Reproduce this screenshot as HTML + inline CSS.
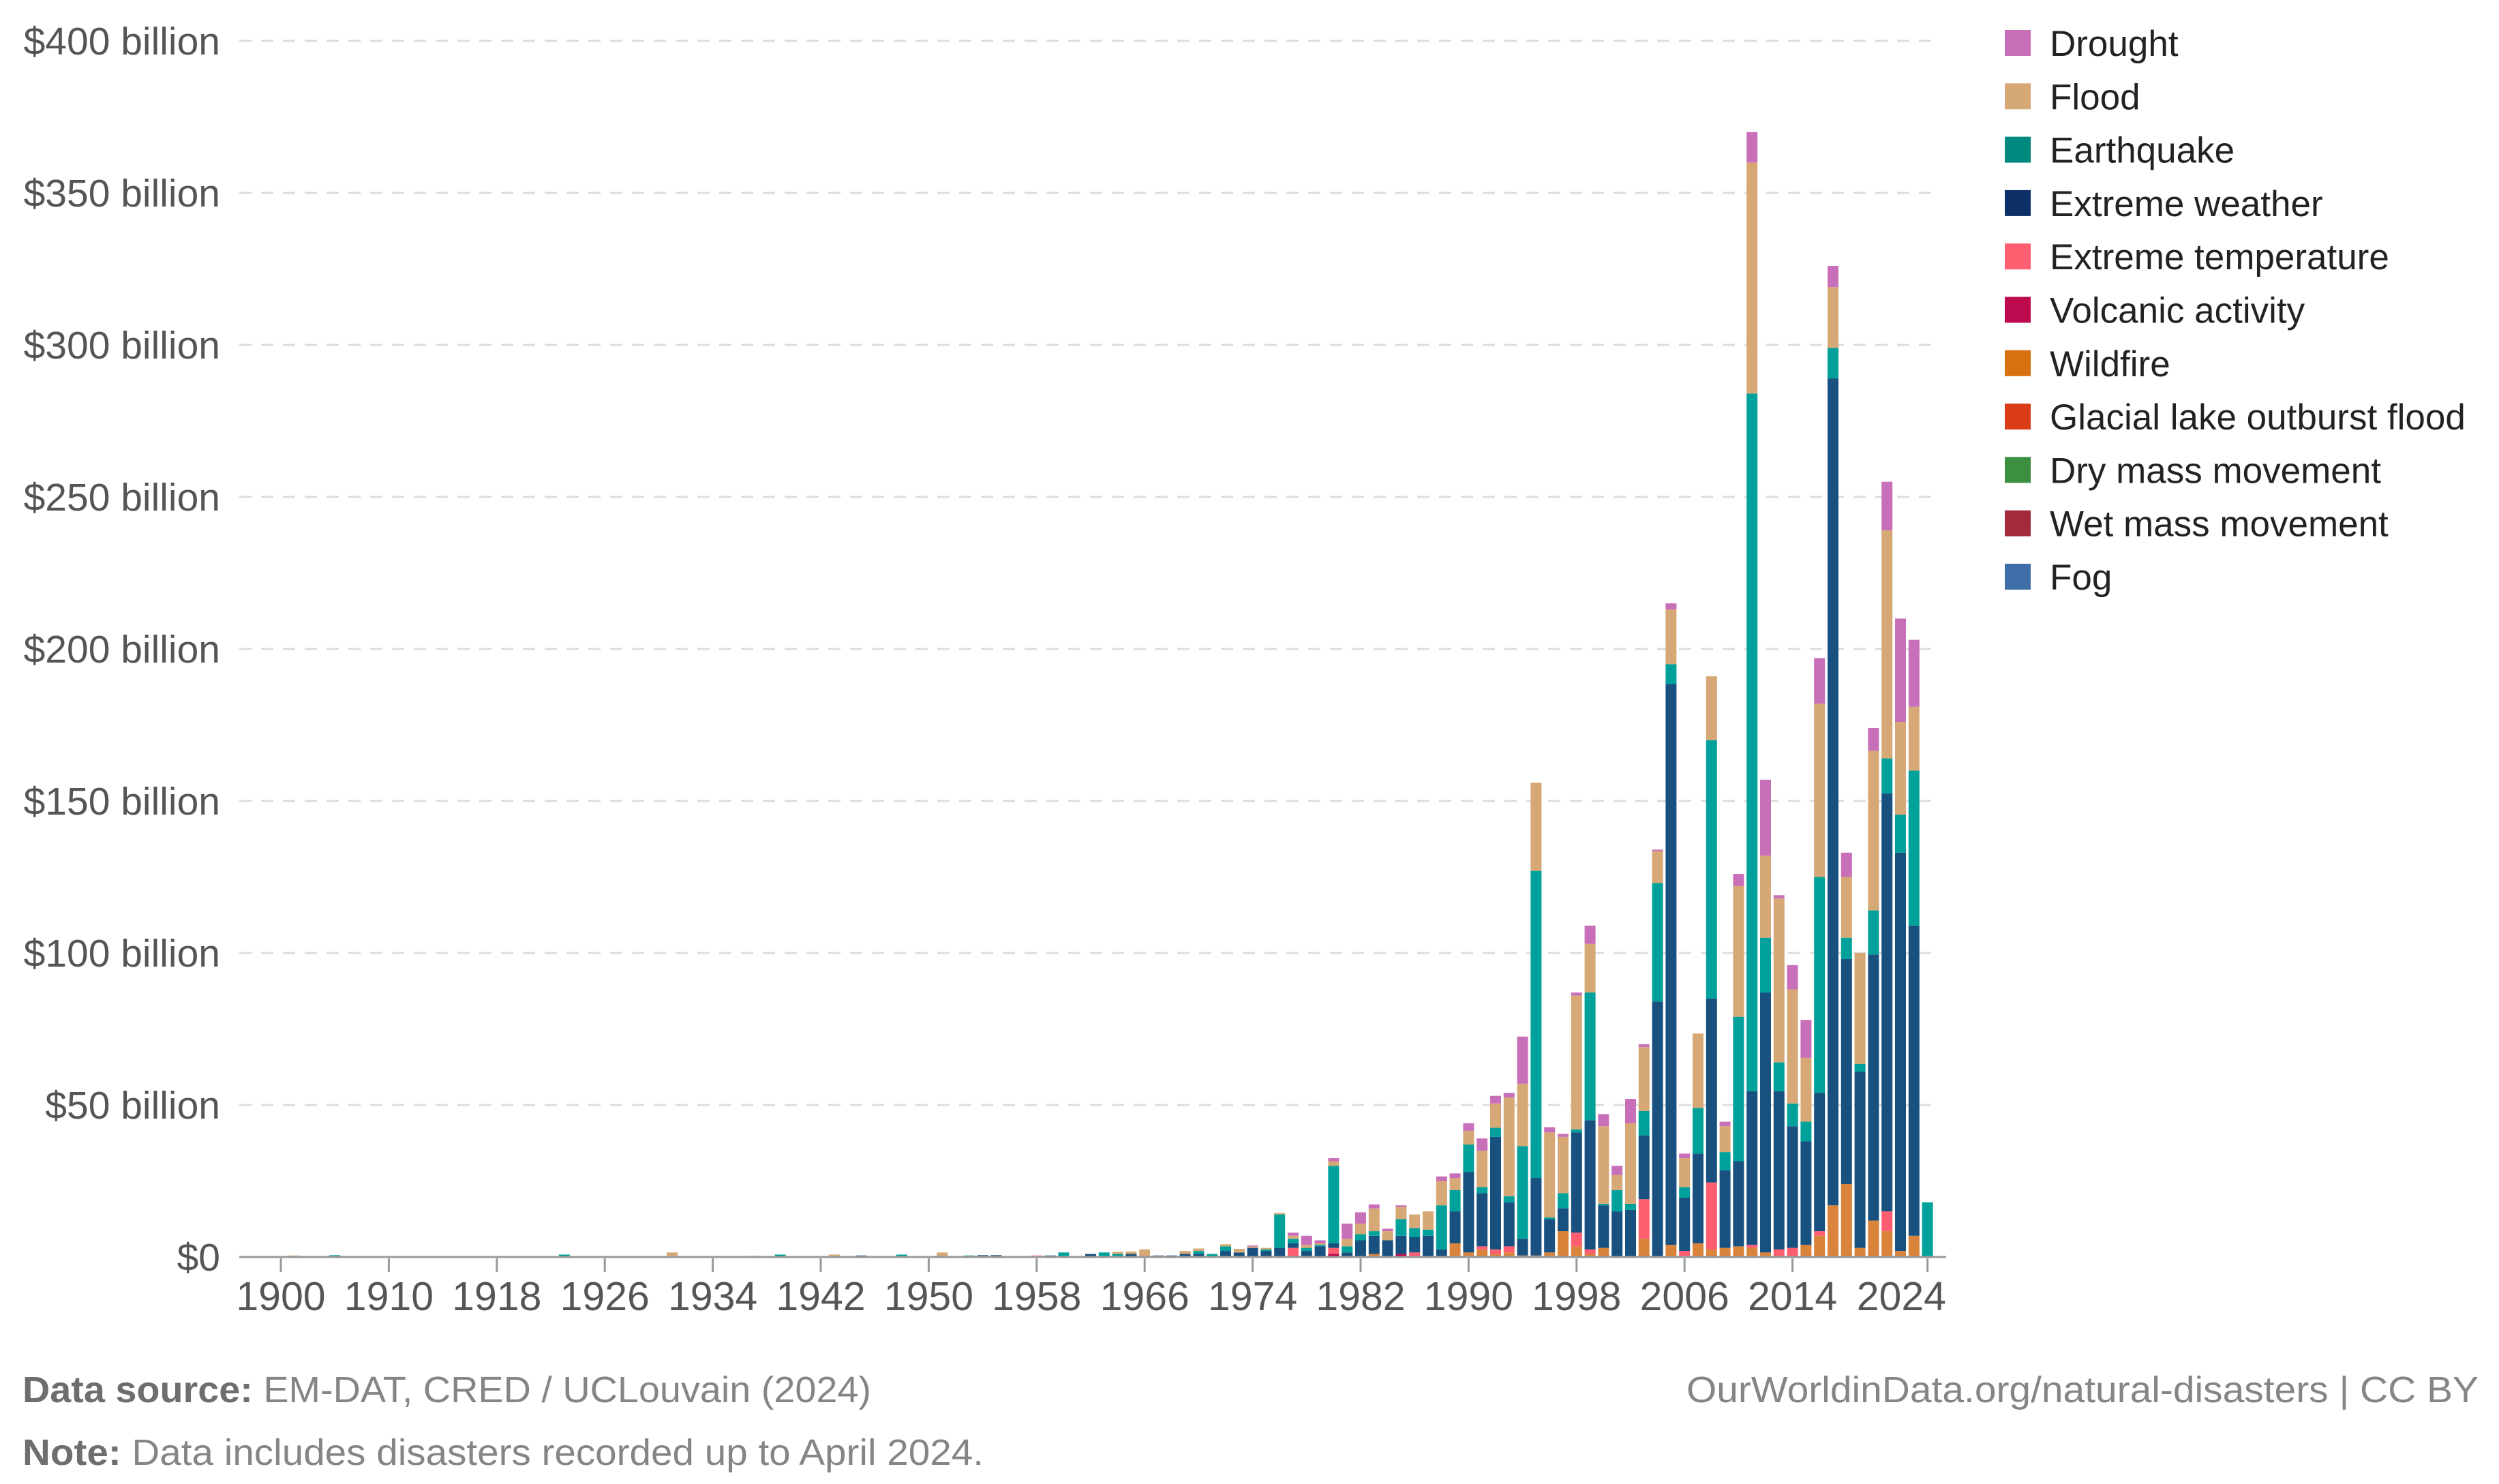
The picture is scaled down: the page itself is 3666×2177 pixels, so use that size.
<!DOCTYPE html>
<html><head><meta charset="utf-8"><style>
html,body{margin:0;padding:0;background:#fff;}
svg{display:block;font-family:"Liberation Sans",sans-serif;}
</style></head><body>
<svg id="chart" width="3666" height="2177" viewBox="0 0 3666 2177" xmlns="http://www.w3.org/2000/svg">
<g id="grid"></g>
<g id="ylabels"></g>
<g id="bars"></g>
<line x1="351" y1="1844" x2="2855" y2="1844" stroke="#999" stroke-width="3"/>
<g id="xlabels"></g>
<g id="legend"></g>
<text x="33" y="2057" font-size="54" fill="#858585" textLength="1245" lengthAdjust="spacingAndGlyphs"><tspan font-weight="bold" fill="#6e6e6e">Data source:</tspan> EM-DAT, CRED / UCLouvain (2024)</text>
<text x="33" y="2149" font-size="54" fill="#858585" textLength="1410" lengthAdjust="spacingAndGlyphs"><tspan font-weight="bold" fill="#6e6e6e">Note:</tspan> Data includes disasters recorded up to April 2024.</text>
<text x="3636" y="2057" font-size="54" fill="#858585" text-anchor="end" textLength="1162" lengthAdjust="spacingAndGlyphs">OurWorldinData.org/natural-disasters | CC BY</text>
</svg>
<script>
const years = [1900,1901,1902,1903,1905,1906,1907,1909,1910,1911,
1912,1913,1914,1915,1916,1917,1918,1919,1920,1921,
1922,1923,1924,1925,1926,1927,1928,1929,1930,1931,
1932,1933,1934,1935,1936,1937,1938,1939,1940,1941,
1942,1943,1944,1945,1946,1947,1948,1949,1950,1951,
1952,1953,1954,1955,1956,1957,1958,1959,1960,1961,
1962,1963,1964,1965,1966,1967,1968,1969,1970,1971,
1972,1973,1974,1975,1976,1977,1978,1979,1980,1981,
1982,1983,1984,1985,1986,1987,1988,1989,1990,1991,
1992,1993,1994,1995,1996,1997,1998,1999,2000,2001,
2002,2003,2004,2005,2006,2007,2008,2009,2010,2011,
2012,2013,2014,2015,2016,2017,2018,2019,2020,2021,
2022,2023,2024];
const drought = [0,0,0,0,0,0,0,0,0,0, 0,0,0,0,0,0,0,0,0,0, 0,0,0,0,0,0,0,0,0,0, 0,0,0,0,0,0,0,0,0,0, 0,0,0,0,0,0,0,0,0,0, 0,0,0,0,0,0,0,0,0,0, 0,0,0,0,0,0,0,0,0,0,
0,0,0.3,0,0,1,3,1,1,5, 3.7,1.3,0.8,0.5,0,0,1.5,1.5,2.5,4, 2.5,1.5,15.5,0,1.7,1,1,6,4,3, 8,1,0.5,2,1.5,0,0,1.5,4,10, 25,1,8,12.5,15,7,8,0,7.5,16, 34,22,0];
const flood = [0,0.5,0,0,0,0,0,0,0,0, 0,0,0,0,0,0,0,0,0,0, 0,0,0,0,0,0,0,0,0,1.5, 0,0,0,0,0,0.4,0,0,0,0, 0,0.8,0,0,0,0,0,0,0,1.5, 0,0,0,0,0,0,0,0,0,0.3,
0,0,0.7,0.8,2.5,0,0,1,0.8,0, 0.7,1.2,0.5,0.5,0.5,1,1,0.5,1.5,2.5, 3.5,7.5,3,4,4.5,6,8,4,4.5,12, 8,32.5,20.5,29,28,18.5,44,16,25.5,5, 26.5,21,10.5,18,9.5,24.5,21,8.5,43,76, 27,54,37.5,21,57,20,20,36.5,52.5,75, 30.5,21,0];
const earthquake = [0,0,0,0,0.6,0,0,0,0,0, 0,0,0,0,0,0,0,0,0,0, 0,0.8,0,0,0,0,0,0,0,0, 0,0,0,0,0,0,0,0.8,0,0, 0,0,0,0,0,0,0.8,0,0,0, 0,0.5,0,0,0,0,0,0,1.5,0,
0,1.5,1,0,0,0,0,0,1,1, 1.5,0,0,0.5,11,1.5,1,0.5,25.5,2, 2,1.5,0,5.5,3,2,14.5,7,9,2, 3,2,30.5,101,0.5,5,1,42,0.5,7, 2,8,39,6.5,3.5,15,85,6,47.5,229.5, 18,9.5,7.5,6.5,71,10,7,2.5,14.5,11.5, 12.5,51,18];
const extremeWeather = [0,0,0,0,0,0,0,0,0,0, 0,0,0,0,0,0,0,0,0,0, 0,0,0,0,0,0,0,0,0,0, 0,0,0,0,0,0,0,0,0,0, 0,0,0,0.5,0,0,0,0,0,0, 0,0,0.6,0.6,0,0,0,0.5,0,0,
1,0,0,1,0,0.5,0.5,1,1,0, 2,1.5,3,2,3,1.5,2,3.5,1.5,1.5, 5.5,6,5.5,6,5,7,2.5,10.5,26.5,17.5, 37,14.5,5.5,25.5,11,7.5,33,42.5,14,15, 15.5,21,84,184.5,17.5,29.5,60.5,25.5,28,50.5, 85.5,52,40,34,45.5,272,74,58,87.5,137.5, 131,102,0];
const extremeTemperature = [0,0,0,0,0,0,0,0,0,0, 0,0,0,0,0,0,0,0,0,0, 0,0,0,0,0,0,0,0,0,0, 0,0,0,0,0,0,0,0,0,0, 0,0,0,0,0,0,0,0,0,0, 0,0,0,0,0,0,0.5,0,0,0,
0,0,0,0,0,0,0,0,0,0, 0,0,0,0,0,3,0,0,2,0, 0,0,0,0,1.5,0,0,0,0,1, 1.5,2,0,0,0,0,4.5,1.5,0,0, 0,13,0,0,2,0,22,0,0,1, 0,2.5,3,0,1.5,0,0,0,0,6.5, 0,0,0];
const volcanic = [0,0,0,0,0,0,0,0,0,0, 0,0,0,0,0,0,0,0,0,0, 0,0,0,0,0,0,0,0,0,0, 0,0,0,0,0,0,0,0,0,0, 0,0,0,0,0,0,0,0,0,0, 0,0,0,0,0,0,0,0,0,0,
0,0,0,0,0,0,0,0,0,0, 0,0,0,0,0,0,0,0,1,0, 0,0,0,1,0,0,0,0,0,0, 0,0,0,0,0,0,0,0,0,0, 0,0,0,0,0,0,0,0,0,0, 0,0,0,0,0,0,0,0,0,0, 0,0,0];
const wildfire = [0,0,0,0,0,0,0,0,0,0, 0,0,0,0,0,0,0,0,0,0, 0,0,0,0,0,0,0,0,0,0, 0,0,0,0,0,0,0,0,0,0, 0,0,0,0,0,0,0,0,0,0, 0,0,0,0,0,0,0,0,0,0,
0,0,0,0,0,0,0,0,0,0, 0,0,0,0,0,0,0,0,0,0, 0,1,0,0,0,0,0,4.5,1.5,2.5, 1,1.5,0.5,0.5,1.5,8.5,3.5,1,3,0, 0,6,0,4,0,4.5,2.5,3,3.5,3, 1.5,0,0,4,7,17,24,3,12,8.5, 2,7,0];
const glacialLake = [];
const dryMass = [];
const wetMass = [];
const fog = [];
const yTicks = [0,50,100,150,200,250,300,350,400];
const yTickLabels = ["$0","$50 billion","$100 billion","$150 billion","$200 billion","$250 billion","$300 billion","$350 billion","$400 billion"];
const xTickYears = [1900,1910,1918,1926,1934,1942,1950,1958,1966,1974,1982,1990,1998,2006,2014,2024];

const seriesNames = ["Drought","Flood","Earthquake","Extreme weather","Extreme temperature","Volcanic activity","Wildfire","Glacial lake outburst flood","Dry mass movement","Wet mass movement","Fog"];
const seriesColors = ["#c86fba","#d6a876","#00a19a","#18507f","#ff5d70","#bd0a4e","#d9833b","#d93c17","#3c8e40","#a32a3b","#3e6fa8"];
const legendColors = ["#c86fba","#d6a876","#00897e","#0b2f66","#ff5d70","#bd0a4e","#d9700f","#d93c17","#3c8e40","#a32a3b","#3e6fa8"];
const seriesData = [drought,flood,earthquake,extremeWeather,extremeTemperature,volcanic,wildfire,glacialLake,dryMass,wetMass,fog];

const NS="http://www.w3.org/2000/svg";
const y0=1844, pxPerB=4.46, x0=412, step=19.8, bw=16;
function yScale(v){return y0 - v*pxPerB;}
function xScale(i){return x0 + i*step;}
function mk(tag,attrs,parent){const e=document.createElementNS(NS,tag);for(const k in attrs)e.setAttribute(k,attrs[k]);parent.appendChild(e);return e;}

const grid=document.getElementById('grid'), yl=document.getElementById('ylabels');
yTicks.forEach((t,k)=>{
  if(t>0){const l=mk('line',{x1:351,x2:2841,y1:yScale(t),y2:yScale(t),stroke:'#dcdcdc','stroke-width':3,'stroke-dasharray':'18,14'},grid);
    
    }
  const tx=mk('text',{x:323,y:yScale(t)+20,'font-size':57,fill:'#555','text-anchor':'end'},yl);
  tx.textContent=yTickLabels[k];
  
  
});

const bars=document.getElementById('bars');
years.forEach((yr,i)=>{
  let base=0;
  for(let s=seriesData.length-1;s>=0;s--){
    const v=seriesData[s][i]||0;
    if(v<=0)continue;
    const r=mk('rect',{x:xScale(i)-bw/2,y:yScale(base+v),width:bw,height:v*pxPerB,fill:seriesColors[s]},bars);
    
    
    base+=v;
  }
});

const xl=document.getElementById('xlabels');
xTickYears.forEach((yr,k)=>{
  const i=years.indexOf(yr);
  const cx=xScale(i);
  const tk=mk('line',{x1:cx,x2:cx,y1:1846,y2:1866,stroke:'#999','stroke-width':3},xl);
  
  
  const last=k===xTickYears.length-1;
  const tx=mk('text',{x:last?2855:cx,y:1922,'font-size':59,fill:'#555','text-anchor':last?'end':'middle'},xl);
  tx.textContent=String(yr);
  
  
});

const lg=document.getElementById('legend');
seriesNames.forEach((n,k)=>{
  const cy=63+k*78.3;
  const sq=mk('rect',{x:2941,y:cy-19,width:38,height:38,fill:legendColors[k]},lg);
  
  
  const tx=mk('text',{x:3007,y:cy+19,'font-size':53,fill:'#222'},lg);
  tx.textContent=n;
  
  
});
</script>
</body></html>
